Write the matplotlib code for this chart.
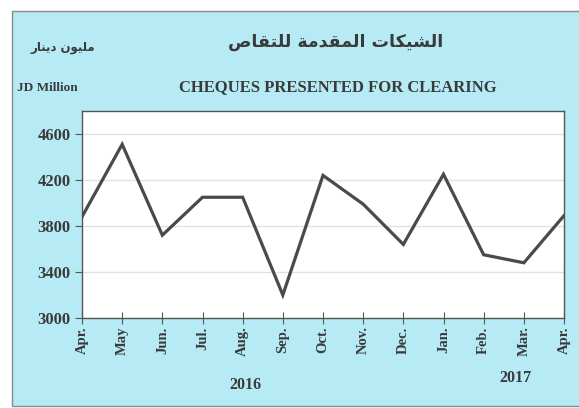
import matplotlib
matplotlib.use('Agg')
import matplotlib.pyplot as plt
from matplotlib.patches import Rectangle

months = ['Apr.', 'May', 'Jun.', 'Jul.', 'Aug.', 'Sep.', 'Oct.',
          'Nov.', 'Dec.', 'Jan.', 'Feb.', 'Mar.', 'Apr.']
cheques = [3880, 4510, 3720, 4050, 4050, 3200, 4240,
           3990, 3640, 4250, 3550, 3480, 3890]
yticks = [3000, 3400, 3800, 4200, 4600]
years = ['2016', '2017']

# arabic text written in presentation forms, visual order (matplotlib has no shaping)
title_ar = ''.join(reversed(
    '\uFE8D\uFEDF\uFEB8\uFEF4\uFEDC\uFE8E\uFE95 '
    '\uFE8D\uFEDF\uFEE4\uFED8\uFEAA\uFEE3\uFE94 '
    '\uFEDF\uFEE0\uFE98\uFED8\uFE8E\uFEB9'))
unit_ar = ''.join(reversed(
    '\uFEE3\uFEE0\uFEF4\uFEEE\uFEE5 '
    '\uFEA9\uFEF3\uFEE8\uFE8E\uFEAD'))

bg = '#b6ebf6'
txt = '#3a3a3a'
serif = 'Liberation Serif'

W, H = 579, 408
fig = plt.figure(figsize=(W / 100, H / 100), dpi=100)
fig.patch.set_facecolor('white')

# light blue panel with grey frame
fig.patches.append(Rectangle((12 / W, 2 / H), (W - 10) / W, (H - 13) / H,
                             transform=fig.transFigure, facecolor=bg,
                             edgecolor='#8a8a8a', linewidth=1.0, zorder=-10))

ax = fig.add_axes([82 / W, 90 / H, (564 - 82) / W, (318 - 111) / H])
ax.set_zorder(5)
ax.set_facecolor('white')

x = list(range(len(months)))
ax.plot(x, cheques, color='#4a4a4a', linewidth=2.3, solid_joinstyle='miter', zorder=3)

ax.set_xlim(0, len(months) - 1)
ax.set_ylim(3000, 4800)
ax.set_yticks(yticks)
ax.set_yticklabels([str(v) for v in yticks], fontfamily=serif,
                   fontweight='bold', fontsize=12, color=txt)
ax.set_xticks(x)
ax.set_xticklabels(months, rotation=90, fontfamily=serif,
                   fontweight='bold', fontsize=10.5, color=txt)
ax.tick_params(axis='x', direction='inout', length=8, color='#555555', pad=2)
ax.tick_params(axis='y', direction='out', length=5, color='#555555', pad=3)
ax.grid(axis='y', color='#e2e2e2', linewidth=1.0, zorder=1)
for s in ax.spines.values():
    s.set_color('#555555')
    s.set_linewidth(1.0)

fig.text(336 / W, 1 - 42 / H, title_ar, ha='center', va='center',
         fontfamily='DejaVu Sans', fontweight='bold', fontsize=12.5, color=txt)
fig.text(338 / W, 1 - 87 / H, 'CHEQUES PRESENTED FOR CLEARING', ha='center',
         va='center', fontfamily=serif, fontweight='bold', fontsize=12, color=txt)
fig.text(63 / W, 1 - 47 / H, unit_ar, ha='center', va='center',
         fontfamily='DejaVu Sans', fontweight='bold', fontsize=8.5, color=txt)
fig.text(47 / W, 1 - 88 / H, 'JD Million', ha='center', va='center',
         fontfamily=serif, fontweight='bold', fontsize=9.5, color=txt)
fig.text(245 / W, 1 - 385 / H, years[0], ha='center', va='center',
         fontfamily=serif, fontweight='bold', fontsize=11.5, color=txt)
fig.text(515 / W, 1 - 378 / H, years[1], ha='center', va='center',
         fontfamily=serif, fontweight='bold', fontsize=11.5, color=txt)

fig.savefig('out.png', dpi=100)
